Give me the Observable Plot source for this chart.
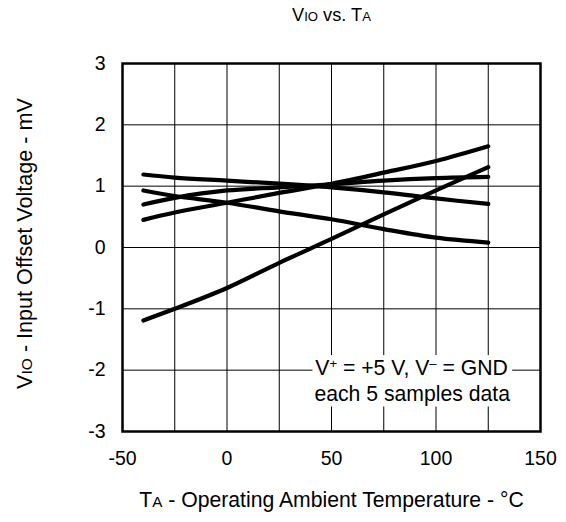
<!DOCTYPE html>
<html>
<head>
<meta charset="utf-8">
<script src="https://cdn.jsdelivr.net/npm/d3@7"></script>
<script src="https://cdn.jsdelivr.net/npm/@observablehq/plot@0.6"></script>
<style>
  html, body { margin: 0; padding: 0; background: #fff; }
  #chart { width: 566px; height: 522px; }
</style>
</head>
<body>
<div id="chart"></div>
<script>
// ---- data ----
const temps   = [-40, -25, 0, 25, 50, 75, 100, 125];
const sampleA = [1.19, 1.14, 1.09, 1.04, 0.98, 0.90, 0.80, 0.71];
const sampleB = [0.93, 0.84, 0.73, 0.59, 0.46, 0.30, 0.16, 0.08];
const sampleC = [0.70, 0.81, 0.93, 0.98, 1.03, 1.09, 1.13, 1.15];
const sampleD = [0.45, 0.57, 0.73, 0.89, 1.04, 1.22, 1.41, 1.65];
const sampleE = [-1.19, -1.00, -0.66, -0.25, 0.14, 0.54, 0.93, 1.31];
const seriesNames = ["A", "B", "C", "D", "E"];
const seriesValues = [sampleA, sampleB, sampleC, sampleD, sampleE];

const xTicks = [-50, 0, 50, 100, 150];
const xGrid  = [-25, 0, 25, 50, 75, 100, 125];
const yTicks = [-3, -2, -1, 0, 1, 2, 3];
const yGrid  = [-2, -1, 0, 1, 2];

const titleText = "VIO vs. TA";
const xLabelText = "TA - Operating Ambient Temperature - °C";
const yLabelText = "VIO - Input Offset Voltage - mV";
const noteLine1 = "V+ = +5 V, V- = GND";
const noteLine2 = "each 5 samples data";

const table = seriesNames.flatMap((name, k) =>
  temps.map((t, i) => ({series: name, t, v: seriesValues[k][i]})));

const FONT = "'Liberation Sans', Arial, Helvetica, sans-serif";

const chart = Plot.plot({
  width: 566,
  height: 522,
  marginLeft: 122,
  marginRight: 26,
  marginTop: 63,
  marginBottom: 91,
  style: {fontFamily: FONT, fontSize: "19.5px", color: "#000", background: "#fff", overflow: "visible"},
  x: {domain: [-50, 150]},
  y: {domain: [-3, 3]},
  marks: [
    Plot.ruleX(xGrid, {stroke: "#000", strokeWidth: 1}),
    Plot.ruleY(yGrid, {stroke: "#000", strokeWidth: 1}),
    Plot.axisX({ticks: xTicks, tickSize: 0, tickPadding: 20, tickFormat: d => String(d), label: null}),
    Plot.axisY({ticks: yTicks, tickSize: 0, tickPadding: 17, tickFormat: d => String(d), label: null}),
    Plot.line(table, {x: "t", y: "v", z: "series", stroke: "#000", strokeWidth: 4.2,
      strokeLinecap: "round", strokeLinejoin: "round", curve: "catmull-rom"}),
    Plot.text([noteLine1], {x: 88.3, y: -1.97, text: d => d, fontSize: 21.2, lineAnchor: "middle", textAnchor: "middle"}),
    Plot.text([noteLine2], {x: 88.6, y: -2.40, text: d => d, fontSize: 21.2, lineAnchor: "middle", textAnchor: "middle"}),
    Plot.frame({stroke: "#000", strokeWidth: 2.5}),
    Plot.text([titleText], {frameAnchor: "top", dy: -48, text: d => d, fontSize: 18.2, lineAnchor: "middle", textAnchor: "middle"}),
    Plot.text([xLabelText], {frameAnchor: "bottom", dy: 69, text: d => d, fontSize: 21.2, lineAnchor: "middle", textAnchor: "middle"}),
    Plot.text([yLabelText], {frameAnchor: "left", dx: -97, dy: -4, rotate: -90, text: d => d, fontSize: 21.6, lineAnchor: "middle", textAnchor: "middle"})
  ]
});

document.getElementById("chart").appendChild(chart);

// ---- rich text: small subscript caps and superscripts ----
const small = {size: "0.72em"};
const sup = {size: "0.62em", shift: -7};
function rich(content, parts) {
  d3.select(chart).selectAll("text").each(function() {
    if (this.textContent !== content) return;
    const el = d3.select(this);
    el.text(null);
    let pending = 0;
    for (const [str, opt] of parts) {
      const ts = el.append("tspan").text(str);
      let dy = pending;
      if (opt && opt.size) ts.attr("font-size", opt.size);
      if (opt && opt.shift) { dy += opt.shift; pending = -opt.shift; } else pending = 0;
      if (dy) ts.attr("dy", dy);
    }
  });
}
rich(titleText, [["V"], ["IO", small], [" vs. T"], ["A", small]]);
rich(xLabelText, [["T"], ["A", small], [" - Operating Ambient Temperature - °C"]]);
rich(yLabelText, [["V"], ["IO", small], [" - Input Offset Voltage - mV"]]);
rich(noteLine1, [["V"], ["+", sup], [" = +5 V, V"], ["\u2013", sup], [" = GND"]]);

// ---- white background behind the note, sized from the rendered text ----
const noteTexts = d3.select(chart).selectAll("text").filter(function() {
  return this.textContent.startsWith("V+") || this.textContent === noteLine2;
}).nodes();
if (noteTexts.length) {
  const svgBox = chart.getBoundingClientRect();
  let x0 = Infinity, y0 = Infinity, x1 = -Infinity, y1 = -Infinity;
  for (const n of noteTexts) {
    const b = n.getBoundingClientRect();
    x0 = Math.min(x0, b.left - svgBox.left); y0 = Math.min(y0, b.top - svgBox.top);
    x1 = Math.max(x1, b.right - svgBox.left); y1 = Math.max(y1, b.bottom - svgBox.top);
  }
  const firstGroup = noteTexts[0].parentNode;
  const rect = document.createElementNS("http://www.w3.org/2000/svg", "rect");
  rect.setAttribute("x", x0 - 2);
  rect.setAttribute("y", y0 - 1);
  rect.setAttribute("width", x1 - x0 + 4);
  rect.setAttribute("height", y1 - y0 + 1);
  rect.setAttribute("fill", "#fff");
  firstGroup.parentNode.insertBefore(rect, firstGroup);
}
</script>
</body>
</html>
